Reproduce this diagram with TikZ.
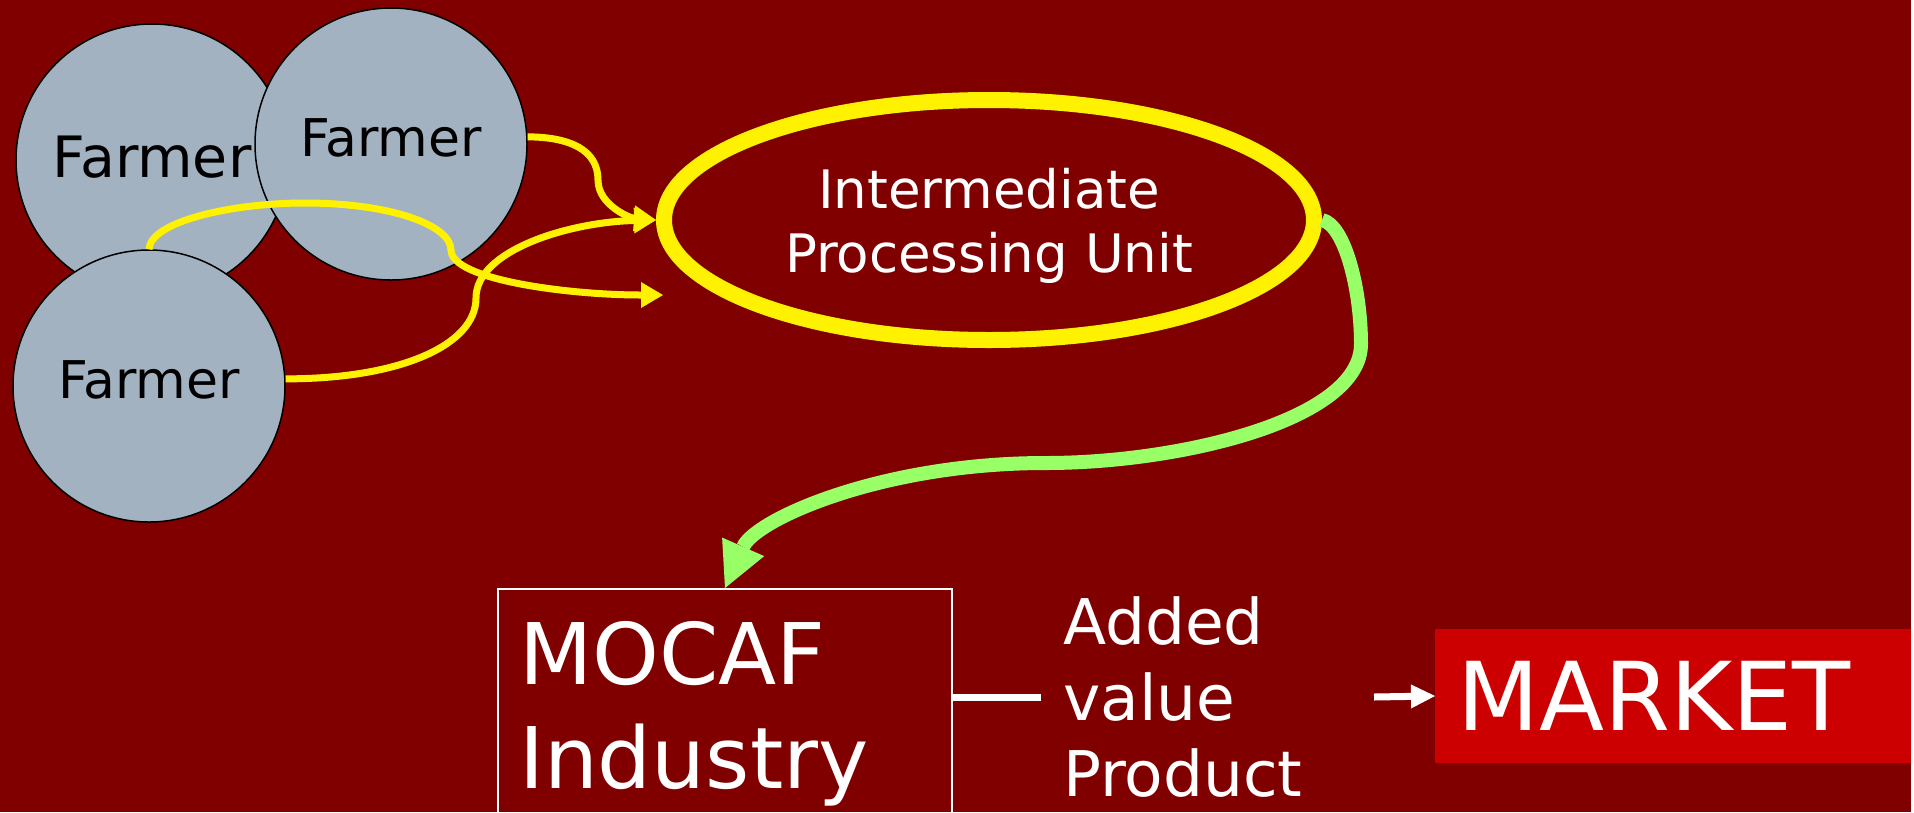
\documentclass[tikz,border=0pt]{standalone}
\usepackage{fontspec}
\setmainfont{DejaVu Sans}
\usepackage{xcolor}
\usepackage{tikz}
\usetikzlibrary{shapes,arrows.meta,positioning}

\definecolor{slide}{HTML}{800000}
\definecolor{farmgrey}{HTML}{A3B2C1}
\definecolor{marketred}{HTML}{CC0000}
\definecolor{leaf}{HTML}{99FF66}

\begin{document}
\begin{tikzpicture}[x=1pt, y=-1pt,
    farmer/.style={draw=black, line width=1.5pt, circle, fill=farmgrey, minimum size=272pt, inner sep=0pt, text depth=12pt},
    feed/.style={draw=yellow, line width=7pt, -{Triangle[length=22pt,width=26pt,line width=0pt]}},
    flow/.style={draw=leaf, line width=14pt, -{Triangle[length=45pt,width=46pt,line width=0pt]}},
    link/.style={draw=white, line width=7pt}]
\useasboundingbox (0,0) rectangle (1914,812);
\clip (0,0) rectangle (1914,812);
\fill[white] (0,0) rectangle (1914,812);
\fill[slide] (0,0) rectangle (1911,812);

\node[farmer, text depth=6pt, font=\fontsize{57}{68}\selectfont] (f1) at (152,160) {Farmer};
\node[farmer, font=\fontsize{52}{62}\selectfont] (f2) at (391,144) {Farmer};
\node[farmer, font=\fontsize{52}{62}\selectfont] (f3) at (149,386) {Farmer};
\node[draw=yellow, line width=16pt, ellipse, minimum width=650pt, minimum height=240pt, align=center, text=white, text depth=0pt, font=\fontsize{53}{64}\selectfont] (ipu) at (989,220) {Intermediate\\Processing Unit};
\node[draw=white, line width=2pt, anchor=north west, text width=412pt, inner xsep=21pt, inner ysep=32pt, align=left, text=white, font=\fontsize{85}{104}\selectfont] (mocaf) at (497,588) {MOCAF\\Industry};
\node[anchor=west, inner xsep=22pt, align=left, text=white, font=\fontsize{63}{76}\selectfont] (added) at (1041,697) {Added\\value\\Product};
\node[fill=marketred, anchor=west, text width=432pt, inner xsep=22pt, minimum height=134pt, align=left, text=white, font=\fontsize{95}{114}\selectfont] (market) at (1435,696) {MARKET};
\coordinate (drop) at (663,295);
\coordinate (prod) at (1374,697);

\draw[feed] (f2.3) .. controls (570,137) and (598,150) .. (598,180) .. controls (598,205) and (630,218) .. (ipu.west);
\draw[feed] (f3.3) .. controls (400,379) and (476,345) .. (476,298) .. controls (476,250) and (570,222) .. (ipu.west);
\draw[feed] (f3.north) .. controls (150,222) and (230,203) .. (305,203) .. controls (390,203) and (451,225) .. (451,250) .. controls (451,280) and (570,295) .. (drop);
\draw[flow] (ipu.east) .. controls (1345,225) and (1361,290) .. (1361,344) .. controls (1361,420) and (1180,463) .. (1046,463) .. controls (880,463) and (755,520) .. (mocaf.north);
\draw[link] (mocaf.east |- added.west) -- (added.west);
\draw[link, -{Triangle[length=24pt,width=24pt,line width=0pt]}] (prod) -- (market.west);
\end{tikzpicture}
\end{document}
